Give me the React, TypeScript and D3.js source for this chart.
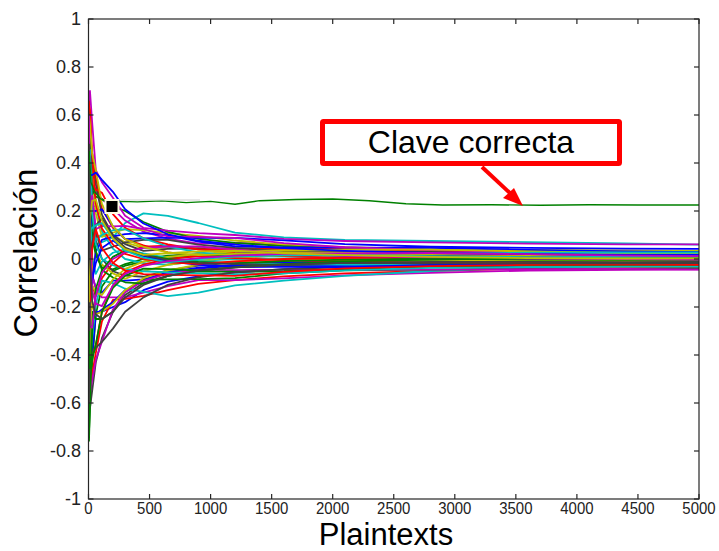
import React from "react";
import * as d3 from "d3";

// Sample sizes (number of plaintexts) at which each wrong-key curve was read
const N = [4, 12, 30, 60, 110, 200, 300, 450, 650, 900, 1200, 1600, 2100, 2800, 3600, 4400, 5000];

// Wrong-key correlation curves (at the sample sizes above)
const wrongKeys: number[][] = [
  [0.60,0.18,-0.07,-0.12,-0.14,-0.09,-0.09,-0.085,-0.056,-0.04,-0.028,-0.027,-0.029,-0.023,-0.018,-0.014,-0.014],
  [-0.72,-0.63,-0.44,-0.23,-0.115,-0.05,-0.028,-0.011,0.005,0.012,0.018,0.012,0.016,0.018,0.014,0.016,0.017],
  [0.70,0.52,0.44,0.34,0.21,0.13,0.083,0.057,0.028,0.012,0.007,-0.003,-0.010,-0.014,-0.016,-0.018,-0.019],
  [0.18,0.07,0.11,0.06,0.07,0.09,0.15,0.19,0.18,0.15,0.11,0.09,0.08,0.075,0.07,0.065,0.06],
  [0.48,0.42,0.33,0.28,0.25,0.21,0.16,0.114,0.085,0.064,0.067,0.06,0.047,0.037,0.03,0.031,0.031],
  [-0.30,-0.07,0.066,0.093,0.10,0.10,0.069,0.046,0.047,0.048,0.049,0.039,0.029,0.023,0.018,0.014,0.014],
  [-0.55,-0.62,-0.55,-0.43,-0.33,-0.22,-0.15,-0.10,-0.07,-0.048,-0.035,-0.027,-0.018,-0.014,-0.010,-0.011,-0.009],
  [0.12,-0.21,-0.22,-0.22,-0.22,-0.20,-0.18,-0.13,-0.094,-0.072,-0.056,-0.042,-0.031,-0.030,-0.028,-0.027,-0.027],
  [0.62,0.35,0.088,0.016,-0.035,-0.043,-0.021,0,0.014,0.02,0.021,0.024,0.026,0.028,0.026,0.022,0.019],
  [-0.48,-0.52,-0.48,-0.39,-0.26,-0.17,-0.166,-0.154,-0.13,-0.104,-0.088,-0.072,-0.06,-0.05,-0.04,-0.038,-0.037],
  [0.0,0.175,0.22,0.22,0.115,0.043,0,-0.017,-0.024,-0.008,0,0.003,0.008,0.005,0.002,0,0.002],
  [-0.6,-0.21,-0.066,-0.124,-0.16,-0.16,-0.16,-0.14,-0.113,-0.088,-0.088,-0.081,-0.068,-0.058,-0.048,-0.045,-0.044],
  [0.58,0.62,0.35,0.19,0.092,0.11,0.124,0.12,0.108,0.096,0.077,0.06,0.049,0.041,0.038,0.036,0.034],
  [-0.18,0.14,0.176,0.078,0,-0.051,-0.069,-0.074,-0.047,-0.028,-0.014,-0.015,-0.016,-0.009,-0.006,-0.004,-0.005],
  [-0.50,-0.48,-0.40,-0.23,-0.21,-0.18,-0.13,-0.091,-0.056,-0.036,-0.025,-0.015,-0.008,-0.002,0.002,0.004,0.005],
  [0.36,0.315,0.29,0.26,0.25,0.22,0.20,0.154,0.113,0.084,0.067,0.054,0.042,0.035,0.032,0.029,0.026],
  [0.54,0.105,-0.11,-0.155,-0.08,-0.017,0.028,0.051,0.056,0.04,0.025,0.012,0.005,0.007,0.01,0.007,0.005],
  [-0.36,-0.385,-0.33,-0.19,-0.09,-0.10,-0.124,-0.137,-0.155,-0.14,-0.11,-0.09,-0.07,-0.05,-0.036,-0.029,-0.026],
  [0.66,0.70,0.57,0.37,0.32,0.255,0.18,0.13,0.118,0.108,0.10,0.084,0.075,0.069,0.064,0.061,0.061],
  [-0.62,-0.245,-0.044,0.031,-0.023,-0.06,-0.083,-0.051,-0.024,-0.008,0.007,0.015,0.018,0.018,0.012,0.009,0.01],
  [0.24,0.385,0.40,0.31,0.184,0.10,0.062,0.034,0.042,0.044,0.032,0.021,0.013,0.014,0.008,0.005,0.007],
  [-0.12,0.105,0.2,0.2,0.207,0.136,0.083,0.086,0.089,0.088,0.088,0.078,0.062,0.051,0.046,0.043,0.042],
  [-0.58,-0.455,-0.22,-0.25,-0.25,-0.22,-0.138,-0.086,-0.085,-0.084,-0.08,-0.06,-0.047,-0.044,-0.04,-0.04,-0.039],
  [0.12,0.28,0.31,0.29,0.276,0.187,0.13,0.086,0.061,0.04,0.042,0.042,0.042,0.035,0.026,0.022,0.02],
  [0.56,0.175,0,-0.062,-0.011,0.026,0.041,0.023,0.005,-0.008,-0.018,-0.021,-0.023,-0.025,-0.026,-0.022,-0.019],
  [-0.54,-0.56,-0.506,-0.42,-0.345,-0.21,-0.138,-0.091,-0.061,-0.044,-0.046,-0.045,-0.044,-0.044,-0.042,-0.041,-0.043],
  [0.3,-0.105,-0.2,-0.23,-0.22,-0.187,-0.13,-0.08,-0.047,-0.024,-0.01,0,-0.005,-0.009,-0.006,-0.009,-0.01],
  [0.6,0.595,0.264,0.108,0.035,0.051,0.069,0.08,0.08,0.06,0.046,0.033,0.031,0.03,0.022,0.018,0.015],
  [-0.24,-0.315,-0.088,0.031,0.08,0.094,0.104,0.108,0.099,0.072,0.053,0.048,0.047,0.046,0.038,0.032,0.029],
  [0.62,0.42,0.176,0.031,-0.046,-0.077,-0.097,-0.103,-0.07,-0.052,-0.053,-0.051,-0.042,-0.032,-0.026,-0.025,-0.026],
  [-0.50,-0.48,-0.40,-0.36,-0.22,-0.11,-0.055,-0.023,0,0.012,0.004,-0.006,-0.01,-0.016,-0.018,-0.018,-0.02],
  [0.42,0.455,0.2,0.062,0,-0.026,-0.041,-0.051,-0.056,-0.06,-0.063,-0.06,-0.047,-0.037,-0.034,-0.032,-0.032],
  [0,0.21,0.264,0.124,0.138,0.136,0.138,0.125,0.094,0.092,0.088,0.066,0.049,0.037,0.028,0.023,0.02],
  [-0.62,-0.35,-0.11,-0.14,-0.15,-0.085,-0.041,-0.011,0.009,0.02,0.032,0.036,0.039,0.039,0.032,0.025,0.022],
  [-0.42,-0.42,-0.40,-0.37,-0.345,-0.29,-0.22,-0.16,-0.108,-0.076,-0.056,-0.042,-0.034,-0.028,-0.02,-0.016,-0.014],
  [0.18,0,-0.088,-0.016,0.046,0.077,0.041,0.011,-0.009,-0.024,-0.032,-0.033,-0.034,-0.025,-0.02,-0.02,-0.02],
  [-0.76,-0.60,-0.31,-0.124,-0.046,0.009,0.035,0.017,0,-0.012,-0.018,-0.009,-0.003,0.002,-0.002,-0.004,-0.002],
  [0.64,0.62,0.44,0.23,0.127,0.06,0.021,0,-0.014,-0.02,-0.01,0,0.005,0.009,0.012,0.013,0.014],
  [0.06,0.14,0.066,0.078,0.10,0.12,0.124,0.086,0.052,0.028,0.014,0.018,0.023,0.025,0.026,0.027,0.027],
  [-0.12,-0.28,-0.286,-0.155,-0.058,0,0.028,0.046,0.052,0.052,0.039,0.024,0.013,0.007,0.002,0,-0.002],
  [0.6,0.56,0.44,0.37,0.23,0.136,0.083,0.051,0.028,0.016,0.021,0.027,0.026,0.021,0.016,0.013,0.01],
  [-0.6,-0.105,0.066,0.14,0.17,0.094,0.048,0.017,-0.005,-0.016,-0.021,-0.024,-0.016,-0.012,-0.012,-0.013,-0.012],
  [0.3,0.35,0.35,0.36,0.33,0.28,0.207,0.148,0.103,0.076,0.06,0.045,0.034,0.025,0.02,0.016,0.017],
  [-0.3,-0.455,-0.42,-0.356,-0.22,-0.12,-0.069,-0.04,-0.042,-0.048,-0.035,-0.021,-0.01,-0.002,0.004,0.007,0.009],
  [0,-0.175,0.044,0.124,0.046,-0.017,-0.048,-0.063,-0.066,-0.068,-0.07,-0.054,-0.039,-0.03,-0.024,-0.023,-0.024],
  [0.15,0.12,0.13,0.14,0.15,0.085,0.035,0.006,-0.014,0,0.01,0.015,0.016,0.012,0.008,0.009,0.01],
  [0.6,0.07,-0.132,-0.186,-0.196,-0.11,-0.062,-0.029,-0.009,0.004,0.014,0.021,0.023,0.025,0.02,0.014,0.012],
  [-0.18,0.175,0.242,0.248,0.161,0.085,0.041,0.017,0.024,0.032,0.035,0.024,0.016,0.009,0.004,0.002,0.003],
  [0.48,0,-0.176,-0.23,-0.25,-0.22,-0.16,-0.108,-0.07,-0.048,-0.035,-0.024,-0.016,-0.018,-0.018,-0.018,-0.017],
];

// Correct-key curve
const correctN = [5, 20, 50, 100, 180, 260, 400, 600, 800, 1000, 1200, 1400, 1700, 2000, 2300, 2600, 2900, 3300, 3700, 4100, 4500, 5000];
const correctV = [0.45, 0.32, 0.28, 0.25, 0.23, 0.24, 0.238, 0.242, 0.235, 0.24, 0.228, 0.243, 0.248, 0.25, 0.243, 0.23, 0.225, 0.226, 0.224, 0.226, 0.225, 0.225];

const xTicks = [0, 500, 1000, 1500, 2000, 2500, 3000, 3500, 4000, 4500, 5000];
const yTicks = [-1, -0.8, -0.6, -0.4, -0.2, 0, 0.2, 0.4, 0.6, 0.8, 1];
const colorOrder = ["#0000ff", "#008000", "#ff0000", "#00bfbf", "#bf00bf", "#bfbf00", "#404040"];

const annotationText = "Clave correcta";
const xLabel = "Plaintexts";
const yLabel = "Correlación";

const W = 719, H = 551;
const L = 88.5, R = 699, T = 19, B = 499;

export default function App() {
  const x = d3.scaleLinear().domain([0, 5000]).range([L, R]);
  const y = d3.scaleLinear().domain([-1, 1]).range([B, T]);
  const line = d3.line<[number, number]>().x(d => x(d[0])).y(d => y(d[1])).curve(d3.curveLinear);
  const font = "'Liberation Sans', Arial, sans-serif";
  const axisColor = "#262626";
  const tl = 5;
  return (
    <svg width={W} height={H} style={{ position: "absolute", left: 0, top: 0, background: "#fff" }}>
      <defs>
        <clipPath id="plot"><rect x={L} y={T} width={R - L} height={B - T} /></clipPath>
      </defs>
      <rect x={0} y={0} width={W} height={H} fill="#fff" />
      <g clipPath="url(#plot)">
        {wrongKeys.map((vals, i) => (
          <path key={i} d={line(N.map((n, j) => [n, vals[j]] as [number, number])) || ""}
            fill="none" stroke={colorOrder[i % 7]} strokeWidth={1.8} strokeLinejoin="round" />
        ))}
        <path d={line(correctN.map((n, j) => [n, correctV[j]] as [number, number])) || ""}
          fill="none" stroke="#008000" strokeWidth={1.4} />
      </g>
      {/* legend remnant */}
      <line x1={121} x2={200} y1={200} y2={200} stroke="#cfcfcf" strokeWidth={1} />
      <rect x={104.5} y={199} width={15} height={15} fill="#fffbe3" />
      <rect x={106.5} y={201} width={11} height={11} fill="#000" />
      {/* axes box */}
      <rect x={L} y={T} width={R - L} height={B - T} fill="none" stroke={axisColor} strokeWidth={1.2} />
      {xTicks.map(t => (
        <g key={"x" + t}>
          <line x1={x(t)} x2={x(t)} y1={B} y2={B - tl} stroke={axisColor} strokeWidth={1.2} />
          <line x1={x(t)} x2={x(t)} y1={T} y2={T + tl} stroke={axisColor} strokeWidth={1.2} />
          <text x={x(t)} y={514} textAnchor="middle" fontFamily={font} fontSize={17} fill="#222"
            transform={`translate(${x(t)},0) scale(0.88,1) translate(${-x(t)},0)`}>{t}</text>
        </g>
      ))}
      {yTicks.map(t => (
        <g key={"y" + t}>
          <line x1={L} x2={L + tl} y1={y(t)} y2={y(t)} stroke={axisColor} strokeWidth={1.2} />
          <line x1={R} x2={R - tl} y1={y(t)} y2={y(t)} stroke={axisColor} strokeWidth={1.2} />
          <text x={81} y={y(t)} dy="0.35em" textAnchor="end" fontFamily={font} fontSize={18} fill="#222">{t}</text>
        </g>
      ))}
      <text x={386} y={545} textAnchor="middle" fontFamily={font} fontSize={31} fill="#000">{xLabel}</text>
      <text transform="translate(37,253) rotate(-90)" textAnchor="middle" fontFamily={font} fontSize={33} fill="#000">{yLabel}</text>
      {/* annotation */}
      <line x1={482} y1={167} x2={512} y2={195} stroke="#ff0000" strokeWidth={4} />
      <polygon points="523,206 503,198 514,188" fill="#ff0000" />
      <rect x={322.5} y={121.5} width={297} height={42} fill="#fff" stroke="#ff0000" strokeWidth={5} rx={1} />
      <text x={471} y={153} textAnchor="middle" fontFamily={font} fontSize={32} fill="#000">{annotationText}</text>
    </svg>
  );
}
